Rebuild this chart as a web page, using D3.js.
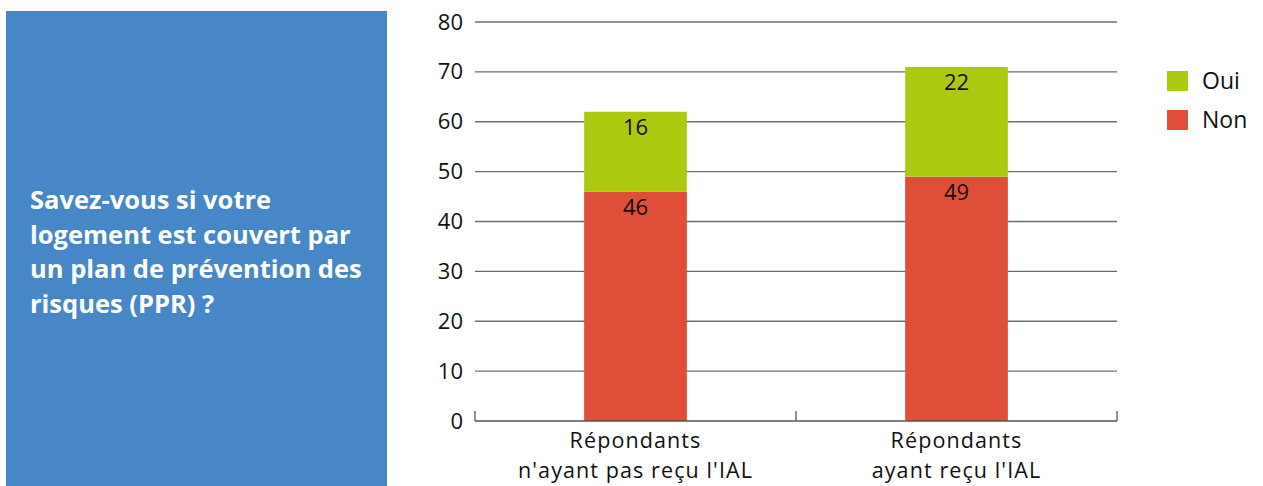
<!DOCTYPE html>
<html>
<head>
<meta charset="utf-8">
<script src="https://cdn.jsdelivr.net/npm/d3@7"></script>
<style>
  body { margin:0; background:#fff; }
  svg { display:block; font-family:'Open Sans', sans-serif; }
</style>
</head>
<body>
<div id="canvas"></div>
<script>
// data
var categories = ["Répondants\nn'ayant pas reçu l'IAL", "Répondants\nayant reçu l'IAL"];
var nonValues = [46, 49];
var ouiValues = [16, 22];
var seriesNames = ["Oui", "Non"];
var seriesColors = ["#adc90f", "#e04e39"];
var yTicks = [0, 10, 20, 30, 40, 50, 60, 70, 80];
var titleLines = ["Savez-vous si votre", "logement est couvert par", "un plan de prévention des", "risques (PPR) ?"];

var W = 1263, H = 486;
var svg = d3.select('#canvas').append('svg').attr('width', W).attr('height', H);

// blue title box
svg.append('rect').attr('x', 6).attr('y', 11).attr('width', 381).attr('height', 475).attr('fill', '#4787c7');
svg.append('g').selectAll('text')
  .data(titleLines)
  .enter().append('text')
  .attr('x', 30)
  .attr('y', function(d, i){ return 209 + i * 34.7; })
  .attr('fill', '#fff')
  .attr('font-weight', 'bold')
  .attr('font-size', 25.5)
  .text(function(d){ return d; });

// scales
var x0 = 475, x1 = 1117, yTop = 22, yBot = 421;
var scaleX = d3.scaleBand().domain(categories).range([x0, x1]).paddingInner(0.68).paddingOuter(0.34);
var scaleY = d3.scaleLinear().domain([0, 80]).range([yBot, yTop]);

// gridlines
svg.append('g').selectAll('line')
  .data(yTicks.filter(function(d){ return d > 0; }))
  .enter().append('line')
  .attr('x1', x0).attr('x2', x1)
  .attr('y1', function(d){ return scaleY(d); })
  .attr('y2', function(d){ return scaleY(d); })
  .attr('stroke', '#6e6e6e').attr('stroke-width', 1.3);

// y axis labels
var axisY = d3.axisLeft(scaleY).tickValues(yTicks).tickSize(0).tickPadding(12);
var gy = svg.append('g').attr('transform', 'translate(' + x0 + ',0)').call(axisY);
gy.select('.domain').remove();
gy.selectAll('text').attr('font-size', 22).attr('font-family', "'Open Sans', sans-serif").attr('fill', '#111');

// bars
var stackData = categories.map(function(c, i){ return {cat: c, Non: nonValues[i], Oui: ouiValues[i]}; });
var stacked = d3.stack().keys(["Non", "Oui"])(stackData);
var color = d3.scaleOrdinal().domain(seriesNames).range(seriesColors);

var layers = svg.append('g').selectAll('g')
  .data(stacked)
  .enter().append('g')
  .attr('fill', function(d){ return color(d.key); });

layers.selectAll('rect')
  .data(function(d){ return d; })
  .enter().append('rect')
  .attr('x', function(d){ return scaleX(d.data.cat); })
  .attr('y', function(d){ return scaleY(d[1]); })
  .attr('width', scaleX.bandwidth())
  .attr('height', function(d){ return scaleY(d[0]) - scaleY(d[1]); });

layers.selectAll('text')
  .data(function(d){ return d; })
  .enter().append('text')
  .attr('x', function(d){ return scaleX(d.data.cat) + scaleX.bandwidth() / 2; })
  .attr('y', function(d){ return scaleY(d[1]) + 23; })
  .attr('text-anchor', 'middle')
  .attr('font-size', 22)
  .attr('fill', '#111')
  .text(function(d){ return d[1] - d[0]; });

// x axis
var gx = svg.append('g').attr('transform', 'translate(0,' + yBot + ')');
gx.append('line').attr('x1', x0).attr('x2', x1).attr('stroke', '#555').attr('stroke-width', 1.3);
var tickXs = [x0].concat(categories.map(function(c){ return scaleX(c) + scaleX.bandwidth() / 2 + scaleX.step() / 2; }));
gx.selectAll('.tk').data(tickXs).enter().append('line')
  .attr('class', 'tk')
  .attr('x1', function(d){ return d; }).attr('x2', function(d){ return d; })
  .attr('y1', 0).attr('y2', -10)
  .attr('stroke', '#555').attr('stroke-width', 1.3);

// x labels: one text per line
var xlData = [];
categories.forEach(function(c){
  c.split('\n').forEach(function(s, i){ xlData.push({s: s, c: c, i: i}); });
});
gx.selectAll('.xl').data(xlData).enter().append('text')
  .attr('class', 'xl')
  .attr('text-anchor', 'middle')
  .attr('font-size', 21.5)
  .attr('letter-spacing', 1.1)
  .attr('fill', '#111')
  .attr('x', function(d){ return scaleX(d.c) + scaleX.bandwidth() / 2; })
  .attr('y', function(d){ return 27 + d.i * 29.5; })
  .text(function(d){ return d.s; });

// legend
var leg = svg.append('g').selectAll('g')
  .data(seriesNames)
  .enter().append('g')
  .attr('transform', function(d, i){ return 'translate(1167,' + (71 + i * 39) + ')'; });
leg.append('rect').attr('width', 21).attr('height', 20).attr('fill', function(d){ return color(d); });
leg.append('text').attr('x', 35).attr('y', 18).attr('font-size', 23).attr('fill', '#111').text(function(d){ return d; });
</script>
</body>
</html>
